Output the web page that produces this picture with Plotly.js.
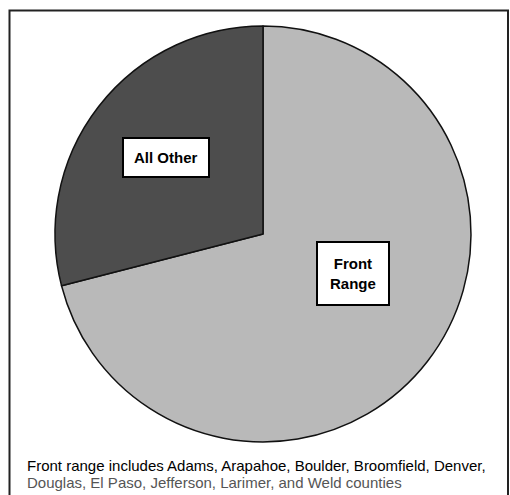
<!DOCTYPE html>
<html>
<head>
<meta charset="utf-8">
<script src="https://cdn.plot.ly/plotly-3.0.1.min.js"></script>
<style>html,body{margin:0;padding:0;background:#fff;}#chart{width:510px;height:495px;}</style>
</head>
<body>
<div id="chart"></div>
<script>
const labels = ["Front Range", "All Other"];
const values = [71, 29];
const colors = ["#b9b9b9", "#4d4d4d"];
const boxLabels = ["Front<br>Range", "All Other"];
const footnote = [
  "Front range includes Adams, Arapahoe, Boulder, Broomfield, Denver,",
  "Douglas, El Paso, Jefferson, Larimer, and Weld counties"
];

const W = 510, H = 495;
const trace = {
  type: "pie",
  labels: labels,
  values: values,
  sort: false,
  direction: "clockwise",
  rotation: 0,
  marker: { colors: colors, line: { color: "#111", width: 1.5 } },
  textinfo: "none",
  hoverinfo: "label+percent",
  showlegend: false,
  domain: { x: [55 / W, 471 / W], y: [1 - 442 / H, 1 - 26 / H] }
};

const annFont = { family: "Liberation Sans, Arial, sans-serif", size: 15, color: "#000" };
const annotations = [
  { text: "<b>" + boxLabels[0] + "</b>", x: 353 / W, y: 1 - 273 / H, xref: "paper", yref: "paper",
    showarrow: false, font: annFont, bgcolor: "#fff", bordercolor: "#000", borderwidth: 2,
    borderpad: 12, xanchor: "center", yanchor: "middle" },
  { text: "<b>" + boxLabels[1] + "</b>", x: 166 / W, y: 1 - 157 / H, xref: "paper", yref: "paper",
    showarrow: false, font: annFont, bgcolor: "#fff", bordercolor: "#000", borderwidth: 2,
    borderpad: 10, xanchor: "center", yanchor: "middle" },
  { text: footnote[0], x: 25 / W, y: 1 - 465 / H, xref: "paper", yref: "paper", showarrow: false,
    font: { family: "Liberation Sans, Arial, sans-serif", size: 15, color: "#000" },
    xanchor: "left", yanchor: "middle" },
  { text: footnote[1], x: 25 / W, y: 1 - 482 / H, xref: "paper", yref: "paper", showarrow: false,
    font: { family: "Liberation Sans, Arial, sans-serif", size: 15, color: "#555" },
    xanchor: "left", yanchor: "middle" }
];

const layout = {
  width: W, height: H,
  margin: { l: 0, r: 0, t: 0, b: 0 },
  paper_bgcolor: "#fff",
  annotations: annotations,
  shapes: [
    { type: "rect", xref: "paper", yref: "paper", x0: 9.5 / W, x1: 508 / W, y0: -0.02, y1: 1 - 10.5 / H,
      line: { color: "#222", width: 2 } }
  ]
};

Plotly.newPlot("chart", [trace], layout, { displayModeBar: false, staticPlot: true });
</script>
</body>
</html>
